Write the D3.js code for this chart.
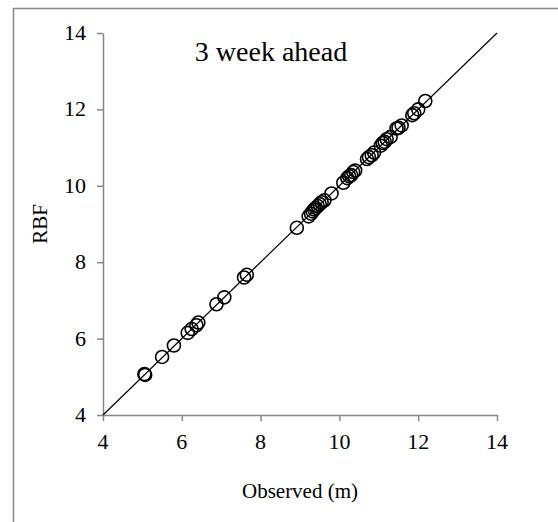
<!DOCTYPE html>
<html>
<head>
<meta charset="utf-8">
<script src="https://cdn.jsdelivr.net/npm/d3@7"></script>
<style>
  body { margin: 0; background: #fff; }
  svg text { font-family: "Liberation Serif", "Times New Roman", Times, serif; fill: #000; }
</style>
</head>
<body>
<div id="chart"></div>
<script>
const observed = [5.05, 5.07, 5.5, 5.8, 6.15, 6.25, 6.37, 6.42, 6.88, 7.08, 7.58, 7.65,
    8.92, 9.22, 9.28, 9.32, 9.36, 9.4, 9.45, 9.5, 9.55, 9.62, 9.8,
    10.1, 10.2, 10.25, 10.3, 10.35, 10.4, 10.7, 10.75, 10.82, 10.88,
    11.05, 11.1, 11.15, 11.2, 11.3, 11.45, 11.5, 11.58, 11.85, 11.9, 12.0, 12.18];
const predicted = [5.07, 5.05, 5.52, 5.82, 6.15, 6.25, 6.35, 6.42, 6.9, 7.08, 7.6, 7.67,
    8.9, 9.2, 9.27, 9.33, 9.38, 9.42, 9.47, 9.52, 9.57, 9.62, 9.8,
    10.08, 10.2, 10.25, 10.28, 10.36, 10.4, 10.7, 10.75, 10.8, 10.87,
    11.05, 11.12, 11.15, 11.22, 11.28, 11.5, 11.52, 11.58, 11.85, 11.9, 12.0, 12.22];
const ticks = [4, 6, 8, 10, 12, 14];
const title = "3 week ahead";

const serif = "'Liberation Serif', 'Times New Roman', Times, serif";
const width = 558, height = 522;
const svg = d3.select("#chart").append("svg")
    .attr("width", width)
    .attr("height", height);

// outer frame (runs past the picture on right and bottom)
svg.append("rect")
    .attr("x", 13.5).attr("y", 8.5)
    .attr("width", 600).attr("height", 600)
    .attr("fill", "none")
    .attr("stroke", "#868686")
    .attr("stroke-width", 1.5);

const x = d3.scaleLinear().domain([4, 14]).range([103, 497]);
const y = d3.scaleLinear().domain([4, 14]).range([415, 33]);

const xAxis = svg.append("g")
    .attr("transform", `translate(0,${y(4)})`)
    .call(d3.axisBottom(x).tickValues(ticks).tickSize(6).tickFormat(() => "").tickSizeOuter(0));
const yAxis = svg.append("g")
    .attr("transform", `translate(${x(4)},0)`)
    .call(d3.axisLeft(y).tickValues(ticks).tickSize(6).tickFormat(() => "").tickSizeOuter(0));

[xAxis, yAxis].forEach(g => {
    g.select(".domain").attr("stroke", "#868686").attr("stroke-width", 1.5);
    g.selectAll(".tick line").attr("stroke", "#868686").attr("stroke-width", 1.5);
});

// tick labels drawn as plain text so they get the serif face
svg.append("g").selectAll("text")
    .data(ticks)
    .join("text")
    .attr("x", d => x(d))
    .attr("y", y(4) + 34)
    .attr("text-anchor", "middle")
    .style("font-size", "22px")
    .style("font-family", serif)
    .text(d => d);

svg.append("g").selectAll("text")
    .data(ticks)
    .join("text")
    .attr("x", x(4) - 17)
    .attr("y", d => y(d) + 7)
    .attr("text-anchor", "end")
    .style("font-size", "22px")
    .style("font-family", serif)
    .text(d => d);

// 1:1 line
svg.append("line")
    .attr("x1", x(4)).attr("y1", y(4))
    .attr("x2", x(14)).attr("y2", y(14))
    .attr("stroke", "#000")
    .attr("stroke-width", 1.2);

const pts = observed.map((d, i) => ({ o: d, p: predicted[i] }));
svg.append("g")
    .selectAll("circle")
    .data(pts)
    .join("circle")
    .attr("cx", d => x(d.o))
    .attr("cy", d => y(d.p))
    .attr("r", 6.5)
    .attr("fill", "none")
    .attr("stroke", "#000")
    .attr("stroke-width", 1.6);

svg.append("text")
    .attr("x", 271).attr("y", 61)
    .attr("text-anchor", "middle")
    .style("font-size", "28px")
    .style("font-family", serif)
    .text(title);

svg.append("text")
    .attr("x", 300).attr("y", 498)
    .attr("text-anchor", "middle")
    .style("font-size", "21px")
    .style("font-family", serif)
    .text("Observed (m)");

svg.append("text")
    .attr("transform", `translate(47,224) rotate(-90)`)
    .attr("text-anchor", "middle")
    .style("font-size", "21px")
    .style("font-family", serif)
    .text("RBF");
</script>
</body>
</html>
